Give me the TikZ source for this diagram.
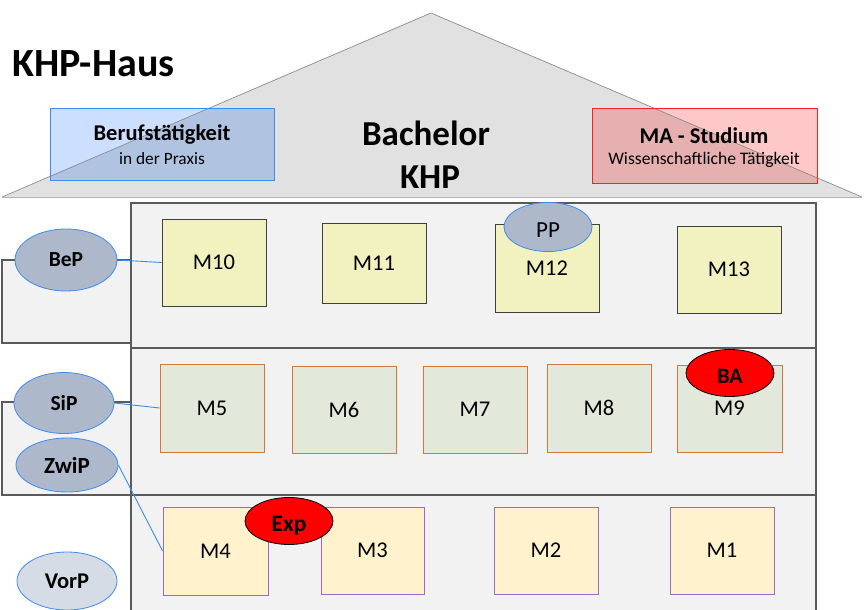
\documentclass[tikz,border=0pt]{standalone}
\usepackage{fontspec}
\setmainfont{Carlito}
\usetikzlibrary{shapes.geometric}
\definecolor{roofgray}{HTML}{E1E1E1}
\definecolor{roofline}{HTML}{8C8C8C}
\definecolor{blueout}{HTML}{CCDFFF}
\definecolor{bluein}{HTML}{B0C4E2}
\definecolor{blueline}{HTML}{3D8BF5}
\definecolor{redout}{HTML}{FFC8C8}
\definecolor{redin}{HTML}{E6B0B0}
\definecolor{redline}{HTML}{FF2020}
\definecolor{floorfill}{HTML}{F2F2F2}
\definecolor{floorline}{HTML}{5A5A5A}
\definecolor{yelfill}{HTML}{F2F2C0}
\definecolor{grnfill}{HTML}{E2E9DB}
\definecolor{orgline}{HTML}{D07A3A}
\definecolor{crmfill}{HTML}{FFF2CC}
\definecolor{purline}{HTML}{9A6ACB}
\definecolor{ellfill}{HTML}{ADB9CA}
\definecolor{ellfilllight}{HTML}{D6DCE5}
\tikzset{
  floorbox/.style={fill=floorfill, draw=floorline, line width=1.2pt},
  mtop/.style={draw=black!75, fill=yelfill, line width=0.8pt, inner sep=0pt, font=\fontsize{22.5}{27}\selectfont},
  mmid/.style={draw=orgline, fill=grnfill, line width=0.8pt, inner sep=0pt, font=\fontsize{22.5}{27}\selectfont},
  mbot/.style={draw=purline, fill=crmfill, line width=0.8pt, inner sep=0pt, font=\fontsize{22.5}{27}\selectfont},
  pell/.style={ellipse, draw=blueline, fill=ellfill, line width=0.8pt, inner sep=0pt, font=\fontsize{22}{26}\selectfont\bfseries},
  rell/.style={ellipse, draw=black, fill=red, line width=0.8pt, inner sep=0pt, text height=20pt, text depth=0pt, font=\fontsize{22.5}{27}\selectfont\bfseries},
  link/.style={draw=blueline, line width=0.9pt},
  txt/.style={inner sep=0pt, align=center}
}
\begin{document}
\begin{tikzpicture}[x=1pt,y=-1pt]
\useasboundingbox (0,0) rectangle (867,610);
% roof
\fill[roofgray] (2,197) -- (431,13) -- (862,197) -- cycle;
% blue box
\fill[blueout] (50,108) rectangle (274,180);
\begin{scope}
\clip (50,108) rectangle (274,180);
\fill[bluein] (2,197) -- (431,13) -- (862,197) -- cycle;
\end{scope}
% red box
\fill[redout] (592,108) rectangle (817,183);
\begin{scope}
\clip (592,108) rectangle (817,183);
\fill[redin] (2,197) -- (431,13) -- (862,197) -- cycle;
\end{scope}
\draw[roofline, line width=0.7pt] (2,197) -- (431,13) -- (862,197);
\draw[black!30, line width=1.5pt] (2,197.5) -- (862,197.5);
\draw[blueline, line width=0.9pt] (50,108) rectangle (274,180);
\draw[redline, line width=0.9pt] (592,108) rectangle (817,183);
\node[txt, font=\fontsize{22.5}{27}\selectfont\bfseries] (beruf) at (162,134) {Berufstätigkeit};
\node[txt, font=\fontsize{17.3}{20}\selectfont] (praxis) at (162,159) {in der Praxis};
\node[txt, font=\fontsize{22.5}{27}\selectfont\bfseries] (ma) at (704,136) {MA - Studium};
\node[txt, font=\fontsize{17.6}{20}\selectfont] (wiss) at (704,160) {Wissenschaftliche Tätigkeit};
\node[txt, font=\fontsize{35}{42}\selectfont\bfseries] (bach) at (426,133) {Bachelor};
\node[txt, font=\fontsize{35}{42}\selectfont\bfseries] (khp) at (430,177) {KHP};
\node[txt, anchor=west, font=\fontsize{40}{48}\selectfont\bfseries] (title) at (12,64) {KHP-Haus};
% side boxes
\draw[floorbox] (2,260) rectangle (131,343);
\draw[floorbox] (2,402) rectangle (131,495);
% floors
\draw[floorbox] (131,203) rectangle (816,348);
\draw[floorbox] (131,348) rectangle (816,495);
\draw[floorbox] (131,495) -- (816,495) -- (816,615) (131,615) -- (131,495);
\fill[floorfill] (132,496) rectangle (815,612);
% top floor modules
\node[mtop, minimum width=104pt, minimum height=87pt] (m10) at (214,262.5) {M10};
\node[mtop, minimum width=104pt, minimum height=80pt] (m11) at (374,263) {M11};
\node[mtop, minimum width=104pt, minimum height=88pt] (m12) at (547,268) {M12};
\node[mtop, minimum width=104pt, minimum height=87pt] (m13) at (729,269.5) {M13};
\node[pell, font=\fontsize{23}{27}\selectfont, text height=20pt, text depth=0pt, minimum width=88pt, minimum height=49pt] (pp) at (548,227) {PP};
% middle floor modules
\node[mmid, minimum width=104pt, minimum height=88pt] (m5) at (212,408) {M5};
\node[mmid, minimum width=104pt, minimum height=87pt] (m6) at (344,409.5) {M6};
\node[mmid, minimum width=104pt, minimum height=87pt] (m7) at (475,409.5) {M7};
\node[mmid, minimum width=104pt, minimum height=88pt] (m8) at (599,408) {M8};
\node[mmid, minimum width=105pt, minimum height=87pt] (m9) at (729.5,408.5) {M9};
\node[rell, font=\fontsize{22}{26}\selectfont\bfseries, minimum width=88pt, minimum height=47pt] (ba) at (730,373) {BA};
% bottom floor modules
\node[mbot, minimum width=105pt, minimum height=88pt] (m4) at (215.5,551) {M4};
\node[mbot, minimum width=103pt, minimum height=87pt] (m3) at (372.5,550.5) {M3};
\node[mbot, minimum width=104pt, minimum height=87pt] (m2) at (546,550.5) {M2};
\node[mbot, minimum width=104pt, minimum height=87pt] (m1) at (722,550.5) {M1};
\node[rell, font=\fontsize{23.5}{28}\selectfont\bfseries, minimum width=88pt, minimum height=47pt] (exp) at (289,521) {Exp};
% practice ellipses
\node[pell, font=\fontsize{21.5}{26}\selectfont\bfseries, minimum width=102pt, minimum height=62pt] (bep) at (66,260) {BeP};
\node[pell, font=\fontsize{21.5}{26}\selectfont\bfseries, minimum width=100pt, minimum height=61pt] (sip) at (64,403) {SiP};
\node[pell, font=\fontsize{23}{27}\selectfont\bfseries, minimum width=102pt, minimum height=54pt] (zwip) at (67,465) {ZwiP};
\node[pell, fill=ellfilllight, font=\fontsize{22.5}{27}\selectfont\bfseries, minimum width=100pt, minimum height=58pt] (vorp) at (67,581) {VorP};
% connectors
\draw[link] (bep.east) -- (m10.west);
\draw[link] (sip.east) -- (m5.west);
\draw[link] (zwip.east) -- (m4.west);
\end{tikzpicture}
\end{document}
